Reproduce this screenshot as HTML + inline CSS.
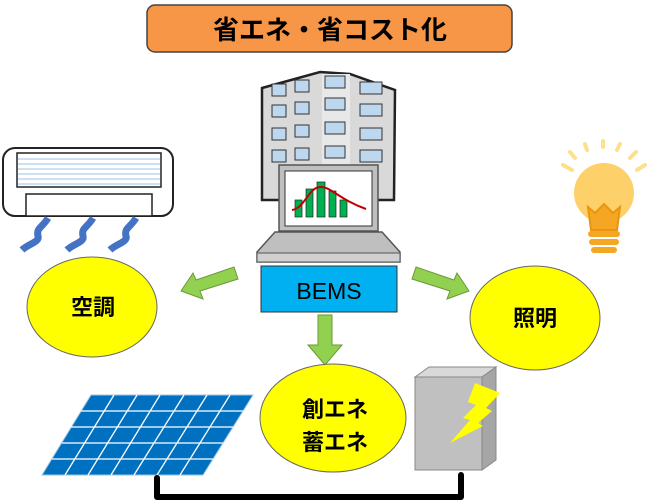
<!DOCTYPE html>
<html><head><meta charset="utf-8"><style>body{margin:0;background:#fff}svg{display:block}text{font-family:"Liberation Sans","Noto Sans CJK JP",sans-serif}</style></head><body>
<svg width="650" height="503" viewBox="0 0 650 503">
<rect x="147" y="5" width="365" height="47" rx="8" fill="#f79646" stroke="#444" stroke-width="1.5"/>
<text x="330" y="39" font-size="26" font-weight="bold" text-anchor="middle" font-family="Liberation Sans,Noto Sans CJK JP,sans-serif">省エネ・省コスト化</text>
<!-- AC -->
<rect x="3" y="148" width="170" height="68" rx="12" fill="#fff" stroke="#222" stroke-width="2"/>
<rect x="17" y="153" width="144" height="34" fill="#fff" stroke="#222" stroke-width="1.5"/>
<g stroke="#9cc3e6" stroke-width="1"><line x1="18" y1="159" x2="160" y2="159"/><line x1="18" y1="164" x2="160" y2="164"/><line x1="18" y1="169" x2="160" y2="169"/><line x1="18" y1="174" x2="160" y2="174"/><line x1="18" y1="179" x2="160" y2="179"/><line x1="18" y1="184" x2="160" y2="184"/></g>
<rect x="26" y="194" width="126" height="22" fill="#fff" stroke="#222" stroke-width="1.5"/>
<g stroke="#4472c4" stroke-width="7" fill="none"><path d="M48 218 C42 228 36 228 38 236 C40 242 28 244 22 250"/><path d="M93 218 C87 228 81 228 83 236 C85 242 73 244 67 250"/><path d="M136 218 C130 228 124 228 126 236 C128 242 116 244 110 250"/></g>
<!-- bulb -->
<g stroke="#fce08a" stroke-width="4" stroke-linecap="round"><line x1="572" y1="170" x2="563" y2="165"/><line x1="575" y1="158" x2="570" y2="152"/><line x1="587" y1="150" x2="585" y2="144"/><line x1="603" y1="147" x2="603" y2="141"/><line x1="617" y1="150" x2="620" y2="144"/><line x1="630" y1="158" x2="636" y2="152"/><line x1="637" y1="170" x2="645" y2="165"/></g>
<circle cx="604" cy="193" r="30" fill="#fdd06a"/>
<path d="M588 207 L591 230 L617 230 L620 207 L613 213 L604 204 L595 213 Z" fill="#f5a623" stroke="#e8960f" stroke-width="2"/>
<g fill="#f5a623"><rect x="588" y="231" width="32" height="6" rx="3"/><rect x="589" y="239" width="30" height="6" rx="3"/><rect x="591" y="247" width="26" height="6" rx="3"/></g>
<!-- building -->
<path d="M262 88 L320 72 L350 74 L395 90 L394 200 L262 200 Z" fill="#d9d9d9" stroke="#222" stroke-width="2.5"/>
<rect x="322" y="74" width="28" height="125" fill="#e8e8e8"/>
<g fill="#bdd7ee" stroke="#333" stroke-width="1">
<rect x="272" y="84" width="14" height="12"/><rect x="295" y="80" width="14" height="12"/><rect x="325" y="76" width="20" height="12"/><rect x="360" y="82" width="22" height="12"/>
<rect x="272" y="105" width="14" height="12"/><rect x="295" y="102" width="14" height="12"/><rect x="325" y="98" width="20" height="12"/><rect x="360" y="104" width="22" height="12"/>
<rect x="272" y="128" width="14" height="12"/><rect x="295" y="125" width="14" height="12"/><rect x="325" y="122" width="20" height="12"/><rect x="360" y="128" width="22" height="12"/>
<rect x="272" y="150" width="14" height="12"/><rect x="295" y="148" width="14" height="12"/><rect x="325" y="146" width="20" height="12"/><rect x="360" y="150" width="22" height="12"/>
</g>
<!-- laptop -->
<rect x="279" y="165" width="99" height="66" fill="#bfbfbf" stroke="#555" stroke-width="1.5"/>
<rect x="285" y="171" width="87" height="55" fill="#fff" stroke="#333"/>
<g fill="#00b050" stroke="#222" stroke-width="0.7"><rect x="295" y="200" width="7" height="17"/><rect x="306" y="189" width="7" height="28"/><rect x="317" y="182" width="8" height="35"/><rect x="329" y="191" width="7" height="26"/><rect x="340" y="200" width="7" height="17"/></g>
<path d="M292 210 C305 208 308 188 320 187 C330 186 340 200 366 209" stroke="#c00000" stroke-width="2" fill="none"/>
<path d="M275 232 L382 232 L400 252 L400 262 L257 262 L257 252 Z" fill="#bfbfbf" stroke="#555" stroke-width="1.5"/>
<rect x="257" y="253" width="143" height="9" fill="#d0d0d0" stroke="#555"/>
<rect x="261" y="266" width="136" height="46" fill="#00b0f0" stroke="#333" stroke-width="1"/>
<text x="329" y="299" font-size="23" text-anchor="middle">BEMS</text>
<!-- arrows -->
<g fill="#92d050" stroke="#6a9a3a" stroke-width="1">
<path d="M234 267 L238 279 L200 291 L203 299 L181 291 L193 273 L196 280 Z"/>
<path d="M416 267 L412 279 L450 291 L447 299 L469 291 L457 273 L454 280 Z"/>
<path d="M318 315 L332 315 L332 345 L342 345 L325 365 L308 345 L318 345 Z"/>
</g>
<!-- ellipses -->
<g fill="#ffff00" stroke="#666" stroke-width="1"><ellipse cx="92" cy="307" rx="65" ry="50"/><ellipse cx="535" cy="318" rx="65" ry="52"/><ellipse cx="333" cy="418" rx="73" ry="54"/></g>
<g font-size="22" font-weight="bold" text-anchor="middle"><text x="93" y="315">空調</text><text x="535" y="326">照明</text><text x="335" y="417">創エネ</text><text x="335" y="450">蓄エネ</text></g>
<!-- solar -->
<path d="M91 395 L253 395 L203 475 L42 475 Z" fill="#0070c0" stroke="#9dc3e6"/>
<g stroke="#fff" stroke-width="1.3"><line x1="81" y1="411" x2="243" y2="411"/><line x1="71" y1="427" x2="233" y2="427"/><line x1="62" y1="443" x2="223" y2="443"/><line x1="52" y1="459" x2="213" y2="459"/>
<line x1="114" y1="395" x2="65" y2="475"/><line x1="137" y1="395" x2="88" y2="475"/><line x1="160" y1="395" x2="111" y2="475"/><line x1="184" y1="395" x2="134" y2="475"/><line x1="207" y1="395" x2="157" y2="475"/><line x1="230" y1="395" x2="180" y2="475"/></g>
<!-- box -->
<path d="M415 377 L429 367 L496 367 L482 377 Z" fill="#d9d9d9" stroke="#888"/>
<path d="M482 377 L496 367 L496 460 L482 470 Z" fill="#a6a6a6" stroke="#888"/>
<rect x="415" y="377" width="67" height="93" fill="#c0c0c0" stroke="#888"/>
<path d="M475 383 L500 393 L486 408 L492 411 L478 423 L483 426 L450 443 L470 420 L463 418 L476 405 L468 402 Z" fill="#ffff00"/>
<path d="M157 478 L157 497 L461 497 L461 475" stroke="#000" stroke-width="6" fill="none" stroke-linejoin="round" stroke-linecap="round"/>
</svg>
</body></html>
